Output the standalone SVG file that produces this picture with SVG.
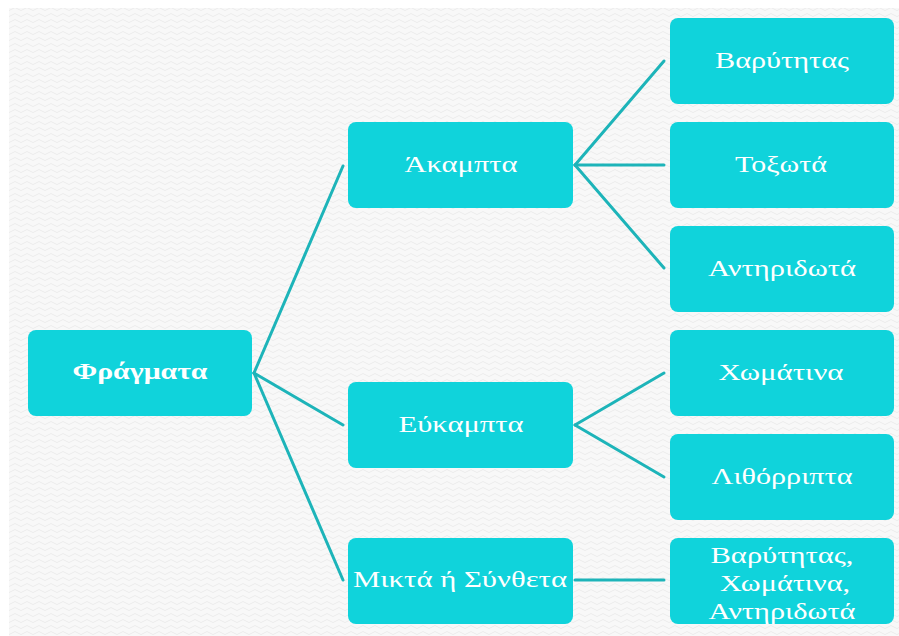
<svg xmlns="http://www.w3.org/2000/svg" width="899" height="636" viewBox="0 0 899 636">
  <defs>
    <pattern id="wave" width="12" height="6" patternUnits="userSpaceOnUse">
      <path d="M0,3 Q3,0 6,3 T12,3" fill="none" stroke="#ececec" stroke-width="1"/>
    </pattern>
    <style>
      .box { fill: #10d3db; }
      .lbl { font-family: "Liberation Serif", "DejaVu Serif", serif; font-size: 24px; fill: #ffffff; text-anchor: middle; }
      .bold { font-weight: bold; }
      .conn { stroke: #1db4b9; stroke-width: 3; fill: none; stroke-linecap: round; }
    </style>
  </defs>
  <rect x="0" y="0" width="899" height="636" fill="#ffffff"/>
  <rect x="9" y="8" width="890" height="628" fill="#f8f8f8"/>
  <rect x="9" y="8" width="890" height="628" fill="url(#wave)"/>

  <g id="connectors">
    <line class="conn" x1="254" y1="373" x2="343" y2="166"/>
    <line class="conn" x1="254" y1="373" x2="343" y2="425"/>
    <line class="conn" x1="254" y1="373" x2="343" y2="580"/>
    <line class="conn" x1="575" y1="165" x2="664" y2="61"/>
    <line class="conn" x1="575" y1="165" x2="664" y2="165"/>
    <line class="conn" x1="575" y1="165" x2="664" y2="268"/>
    <line class="conn" x1="575" y1="425" x2="664" y2="373"/>
    <line class="conn" x1="575" y1="425" x2="664" y2="477"/>
    <line class="conn" x1="575" y1="580" x2="664" y2="580"/>
  </g>

  <g id="n-fragmata">
    <rect class="box" x="28" y="330" width="224" height="86" rx="8"/>
    <text class="lbl bold" x="140" y="379" textLength="135" lengthAdjust="spacingAndGlyphs">Φράγματα</text>
  </g>
  <g id="n-akampta">
    <rect class="box" x="348" y="122" width="225" height="86" rx="8"/>
    <text class="lbl" x="461" y="172" textLength="113" lengthAdjust="spacingAndGlyphs">Άκαμπτα</text>
  </g>
  <g id="n-eukampta">
    <rect class="box" x="348" y="382" width="225" height="86" rx="8"/>
    <text class="lbl" x="461" y="432" textLength="125" lengthAdjust="spacingAndGlyphs">Εύκαμπτα</text>
  </g>
  <g id="n-mikta">
    <rect class="box" x="348" y="538" width="225" height="86" rx="8"/>
    <text class="lbl" x="460" y="587" textLength="214" lengthAdjust="spacingAndGlyphs">Μικτά ή Σύνθετα</text>
  </g>
  <g id="n-varytitas">
    <rect class="box" x="670" y="18" width="224" height="86" rx="8"/>
    <text class="lbl" x="782" y="68" textLength="134" lengthAdjust="spacingAndGlyphs">Βαρύτητας</text>
  </g>
  <g id="n-toxota">
    <rect class="box" x="670" y="122" width="224" height="86" rx="8"/>
    <text class="lbl" x="781" y="172" textLength="92" lengthAdjust="spacingAndGlyphs">Τοξωτά</text>
  </g>
  <g id="n-antiridota">
    <rect class="box" x="670" y="226" width="224" height="86" rx="8"/>
    <text class="lbl" x="782" y="276" textLength="148" lengthAdjust="spacingAndGlyphs">Αντηριδωτά</text>
  </g>
  <g id="n-chomatina">
    <rect class="box" x="670" y="330" width="224" height="86" rx="8"/>
    <text class="lbl" x="781" y="380" textLength="125" lengthAdjust="spacingAndGlyphs">Χωμάτινα</text>
  </g>
  <g id="n-lithorripta">
    <rect class="box" x="670" y="434" width="224" height="86" rx="8"/>
    <text class="lbl" x="782" y="484" textLength="141" lengthAdjust="spacingAndGlyphs">Λιθόρριπτα</text>
  </g>
  <g id="n-combo">
    <rect class="box" x="670" y="538" width="224" height="86" rx="8"/>
    <text class="lbl" x="782" y="563" textLength="143" lengthAdjust="spacingAndGlyphs">Βαρύτητας,</text>
    <text class="lbl" x="785" y="591" textLength="130" lengthAdjust="spacingAndGlyphs">Χωμάτινα,</text>
    <text class="lbl" x="782" y="619" textLength="147" lengthAdjust="spacingAndGlyphs">Αντηριδωτά</text>
  </g>
</svg>
